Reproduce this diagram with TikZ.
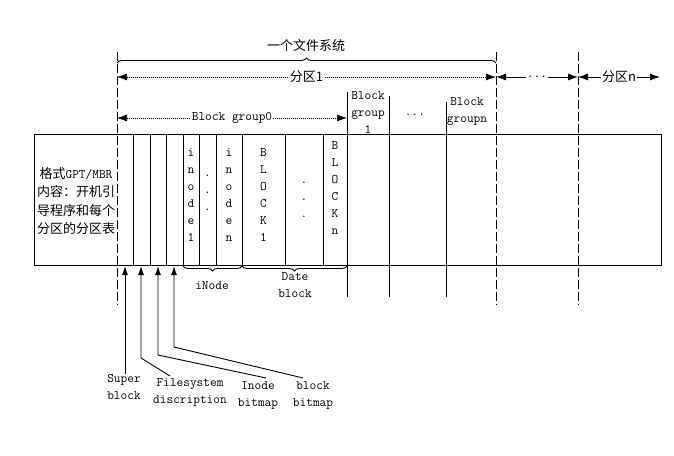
\documentclass[tikz,border=0pt]{standalone}
\usepackage{fontspec}
\newfontfamily\cjk{Noto Sans CJK SC}
\usetikzlibrary{arrows.meta,decorations.pathreplacing}

\begin{document}
\begin{tikzpicture}[x=1pt,y=-1pt]
\tikzstyle{every node}+=[inner sep=0pt]
\tikzstyle{lbl}=[font=\fontsize{13}{17}\selectfont\ttfamily, align=center]
\tikzstyle{cjklbl}=[font=\fontsize{13}{18.5}\selectfont\cjk, align=center]
\tikzstyle{part}=[black, line width=0.9pt]
\tikzstyle{cut}=[black, line width=0.9pt, dash pattern=on 9pt off 3pt]
\tikzstyle{dotarr}=[black, line width=0.6pt, dash pattern=on 1pt off 1pt, {Latex[length=10pt,width=7pt]}-{Latex[length=10pt,width=7pt]}]
\tikzstyle{solarr}=[black, line width=0.9pt, {Latex[length=10pt,width=7pt]}-{Latex[length=10pt,width=7pt]}]
\tikzstyle{uparr}=[black, line width=0.9pt, -{Latex[length=9pt,width=6pt]}]
\tikzstyle{brc}=[black, line width=0.9pt, decorate, decoration={brace, amplitude=5pt}]
\tikzstyle{gap}=[fill=white, inner xsep=1pt, inner ysep=1pt]
\useasboundingbox (0,0) rectangle (674,455);

% disk
\node (disk) [draw, part, minimum width=627pt, minimum height=131pt, anchor=north west] at (34,134) {};
\foreach \x in {133,150,166,183,199,216,242,285,323}
  \draw [part] (\x,134) -- (\x,265);
\foreach \x/\t in {347/92,389/96,446/102}
  \draw [part] (\x,\t) -- (\x,297);
\foreach \x in {117,496,578}
  \draw [cut] (\x,52) -- (\x,305);

% file system and partitions
\draw [brc] (117,63) -- (496,63);
\node [cjklbl] (fs) at (306,46) {一个文件系统};
\coordinate (p1l) at (117,77);
\coordinate (p1r) at (496,77);
\coordinate (pnl) at (578,77);
\coordinate (pnr) at (660,77);
\draw [dotarr] (p1l) -- node [gap, cjklbl] (p1) {分区1} (p1r);
\draw [solarr] (p1r) -- node [gap, lbl] (pmid) {...} (pnl);
\draw [solarr] (pnl) -- node [gap, cjklbl] (pn) {分区n} (pnr);

% block groups
\coordinate (bg0l) at (117,118);
\coordinate (bg0r) at (347,118);
\draw [dotarr] (bg0l) -- node [gap, lbl] (bg0) {Block group0} (bg0r);
\node [lbl] (bg1) at (368,113) {Block\\group\\1};
\node [lbl] (bgdots) at (415,115) {...};
\node [lbl] (bgn) at (467,112) {Block\\groupn};

% boot area
\node [cjklbl] (mbr) at (76,201) {格式{\ttfamily GPT/MBR}\\内容：开机引\\导程序和每个\\分区的分区表};

% inodes and blocks
\node [lbl] (ino1) at (191,195) {i\\n\\o\\d\\e\\1};
\node [lbl] (inodots) at (207.5,193) {.\\.\\.};
\node [lbl] (inon) at (229,195) {i\\n\\o\\d\\e\\n};
\node [lbl] (blk1) at (263.5,195) {B\\L\\O\\C\\K\\1};
\node [lbl] (blkdots) at (304,200) {.\\.\\.};
\node [lbl] (blkn) at (335,188) {B\\L\\O\\C\\K\\n};

\draw [brc] (242,266) -- (183,266);
\node [lbl] (inode) at (212,286) {iNode};
\draw [brc] (347,266) -- (242,266);
\node [lbl] (dblk) at (295,285) {Date\\block};

% pointers to the first blocks
\node [lbl] (sup) at (124,387) {Super\\block};
\node [lbl] (fsd) at (190,392) {Filesystem\\discription};
\node [lbl] (ibm) at (258,395) {Inode\\bitmap};
\node [lbl] (bbm) at (313,395) {block\\bitmap};
\coordinate (suptip) at (125,266);
\coordinate (fsdtip) at (141,266);
\coordinate (ibmtip) at (158,266);
\coordinate (bbmtip) at (174,266);
\coordinate (fsdbend) at (141,358);
\coordinate (ibmbend) at (158,355);
\coordinate (bbmbend) at (174,347);
\coordinate (fsdfoot) at (170,376);
\coordinate (ibmfoot) at (266,378);
\coordinate (bbmfoot) at (303,378);
\draw [uparr] (sup.north -| suptip) -- (suptip);
\draw [uparr] (fsdfoot) -- (fsdbend) -- (fsdtip);
\draw [uparr] (ibmfoot) -- (ibmbend) -- (ibmtip);
\draw [uparr] (bbmfoot) -- (bbmbend) -- (bbmtip);
\end{tikzpicture}
\end{document}
